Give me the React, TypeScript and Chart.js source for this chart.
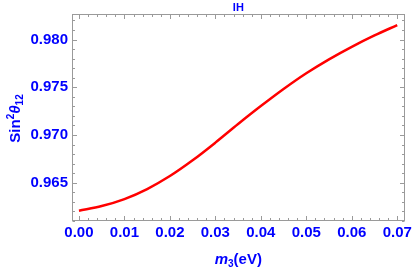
import React, { useEffect, useRef } from "react";
import { Chart, registerables } from "chart.js";

Chart.register(...registerables);

// m3 (eV)
const massValues = [0, 0.005, 0.01, 0.015, 0.02, 0.025, 0.03, 0.035, 0.04, 0.045, 0.05, 0.055, 0.06, 0.065, 0.07];
// Sin^2 theta_12
const sinSqTheta12 = [0.96207, 0.96256, 0.96329, 0.96434, 0.9657, 0.96735, 0.9692, 0.97115, 0.97303, 0.97482, 0.97647, 0.97793, 0.97924, 0.98043, 0.98152];

const xTickValues = [0, 0.01, 0.02, 0.03, 0.04, 0.05, 0.06, 0.07];
const xTickLabels = ["0.00", "0.01", "0.02", "0.03", "0.04", "0.05", "0.06", "0.07"];
const yTickValues = [0.965, 0.97, 0.975, 0.98];
const yTickLabels = ["0.965", "0.970", "0.975", "0.980"];

const chartTitle = "IH";

const BLUE = "#0000ff";
const FONT = "'Liberation Sans', Arial, sans-serif";

type Seg = { text: string; font: string; dy: number };

function drawRich(ctx: CanvasRenderingContext2D, segs: Seg[]) {
  let total = 0;
  const widths = segs.map((s) => {
    ctx.font = s.font;
    const w = ctx.measureText(s.text).width;
    total += w;
    return w;
  });
  let x = -total / 2;
  segs.forEach((s, i) => {
    ctx.font = s.font;
    ctx.fillText(s.text, x, s.dy);
    x += widths[i];
  });
}

const decor = {
  id: "decor",
  beforeDatasetsDraw(chart: any) {
    const { ctx, chartArea: a, scales } = chart;
    const xs = scales.x;
    const ys = scales.y;
    ctx.save();
    ctx.strokeStyle = "#9a9a9a";
    ctx.lineWidth = 1;
    const L = Math.round(a.left) + 0.5;
    const R = Math.round(a.right) - 0.5;
    const T = Math.round(a.top) + 0.5;
    const B = Math.round(a.bottom) - 0.5;
    ctx.strokeRect(L, T, R - L, B - T);
    ctx.beginPath();
    const xStep = 0.002;
    for (let i = Math.ceil(xs.min / xStep); i <= Math.floor(xs.max / xStep); i++) {
      const px = Math.round(xs.getPixelForValue(i * xStep)) + 0.5;
      const len = i % 5 === 0 ? 4.5 : 2.5;
      ctx.moveTo(px, B);
      ctx.lineTo(px, B - len);
      ctx.moveTo(px, T);
      ctx.lineTo(px, T + len);
    }
    const yStep = 0.001;
    for (let i = Math.ceil(ys.min / yStep - 1e-6); i <= Math.floor(ys.max / yStep + 1e-6); i++) {
      const py = Math.round(ys.getPixelForValue(i * yStep)) + 0.5;
      const len = i % 5 === 0 ? 4.5 : 2.5;
      ctx.moveTo(L, py);
      ctx.lineTo(L + len, py);
      ctx.moveTo(R, py);
      ctx.lineTo(R - len, py);
    }
    ctx.stroke();
    ctx.restore();
  },
  afterDraw(chart: any) {
    const { ctx, chartArea: a } = chart;
    ctx.save();
    ctx.fillStyle = BLUE;
    ctx.textBaseline = "alphabetic";
    ctx.textAlign = "left";
    const cx = (a.left + a.right) / 2;
    const cy = (a.top + a.bottom) / 2;
    ctx.save();
    ctx.translate(cx, 11);
    drawRich(ctx, [{ text: chartTitle, font: `bold 11px ${FONT}`, dy: 0 }]);
    ctx.restore();
    ctx.save();
    ctx.translate(cx, 264);
    drawRich(ctx, [
      { text: "m", font: `italic bold 15px ${FONT}`, dy: 0 },
      { text: "3", font: `bold 10px ${FONT}`, dy: 3 },
      { text: "(eV)", font: `bold 15px ${FONT}`, dy: 0 },
    ]);
    ctx.restore();
    ctx.save();
    ctx.translate(20, cy + 1);
    ctx.rotate(-Math.PI / 2);
    drawRich(ctx, [
      { text: "Sin", font: `bold 15px ${FONT}`, dy: 0 },
      { text: "2", font: `bold 10px ${FONT}`, dy: -6 },
      { text: "\u03b8", font: `italic bold 15px ${FONT}`, dy: 0 },
      { text: "12", font: `bold 10px ${FONT}`, dy: 3 },
    ]);
    ctx.restore();
    ctx.restore();
  },
};

export default function App() {
  const ref = useRef<HTMLCanvasElement | null>(null);
  useEffect(() => {
    if (!ref.current) return;
    const chart = new Chart(ref.current, {
      type: "line",
      data: {
        datasets: [
          {
            data: massValues.map((m, i) => ({ x: m, y: sinSqTheta12[i] })),
            borderColor: "#ff0000",
            borderWidth: 2.5,
            pointRadius: 0,
            cubicInterpolationMode: "monotone",
            fill: false,
          },
        ],
      },
      options: {
        responsive: false,
        animation: false,
        layout: { padding: { left: 0, right: 8, top: 14, bottom: 0 } },
        plugins: { legend: { display: false }, tooltip: { enabled: false }, title: { display: false } },
        scales: {
          x: {
            type: "linear",
            min: -0.00153,
            max: 0.07164,
            border: { display: false },
            grid: { display: false, drawTicks: false },
            afterBuildTicks: (s: any) => {
              s.ticks = xTickValues.map((v) => ({ value: v }));
            },
            afterFit: (s: any) => {
              s.height = 48;
            },
            ticks: {
              padding: 3,
              color: BLUE,
              font: { family: FONT, size: 15, weight: "bold" },
              maxRotation: 0,
              autoSkip: false,
              callback: (v: any) => {
                const i = xTickValues.findIndex((t) => Math.abs(t - v) < 1e-9);
                return i >= 0 ? xTickLabels[i] : "";
              },
            },
          },
          y: {
            type: "linear",
            min: 0.96099,
            max: 0.98268,
            border: { display: false },
            grid: { display: false, drawTicks: false },
            afterBuildTicks: (s: any) => {
              s.ticks = yTickValues.map((v) => ({ value: v }));
            },
            afterFit: (s: any) => {
              s.width = 72;
            },
            ticks: {
              padding: 4,
              color: BLUE,
              font: { family: FONT, size: 15, weight: "bold" },
              autoSkip: false,
              callback: (v: any) => {
                const i = yTickValues.findIndex((t) => Math.abs(t - v) < 1e-9);
                return i >= 0 ? yTickLabels[i] : "";
              },
            },
          },
        },
      } as any,
      plugins: [decor],
    });
    return () => chart.destroy();
  }, []);
  return (
    <div style={{ position: "absolute", left: 0, top: 0, width: 415, height: 269, background: "#fff" }}>
      <canvas ref={ref} width={415} height={269} style={{ display: "block" }} />
    </div>
  );
}
